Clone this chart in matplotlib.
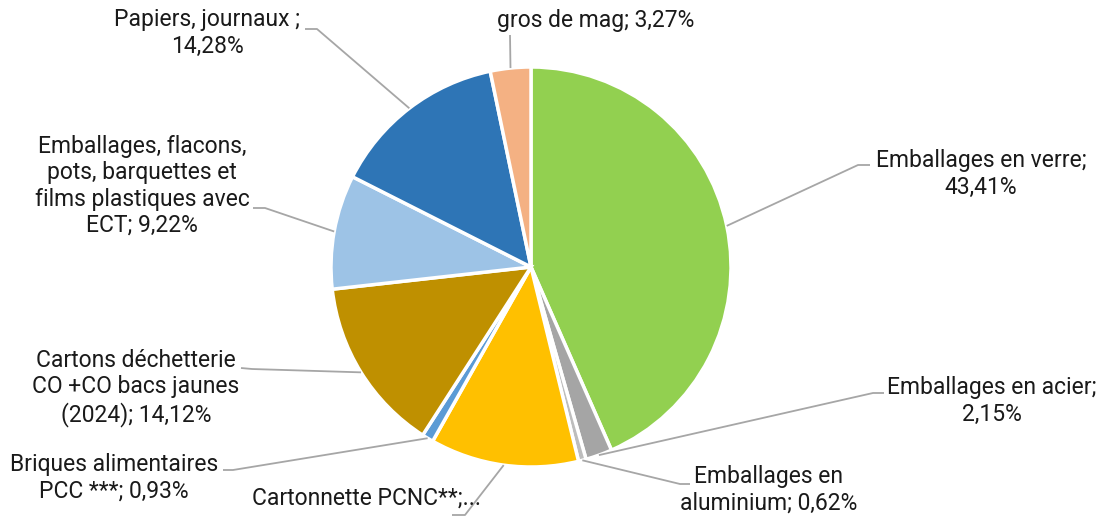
import numpy as np
import matplotlib
matplotlib.use("Agg")
import matplotlib.pyplot as plt

labels = [
    "Emballages en verre",
    "Emballages en acier",
    "Emballages en\naluminium",
    "Cartonnette PCNC**",
    "Briques alimentaires\nPCC ***",
    "Cartons déchetterie\nCO +CO bacs jaunes\n(2024)",
    "Emballages, flacons,\npots, barquettes et\nfilms plastiques avec\nECT",
    "Papiers, journaux ",
    "gros de mag",
]
values = [43.41, 2.15, 0.62, 12.00, 0.93, 14.12, 9.22, 14.28, 3.27]
label_texts = [
    "Emballages en verre;\n43,41%",
    "Emballages en acier;\n2,15%",
    "Emballages en\naluminium; 0,62%",
    "Cartonnette PCNC**;...",
    "Briques alimentaires\nPCC ***; 0,93%",
    "Cartons déchetterie\nCO +CO bacs jaunes\n(2024); 14,12%",
    "Emballages, flacons,\npots, barquettes et\nfilms plastiques avec\nECT; 9,22%",
    "Papiers, journaux ;\n14,28%",
    "gros de mag; 3,27%",
]
colors = ["#92D050", "#A5A5A5", "#BDBDBD", "#FFC000", "#5B9BD5",
          "#BF9000", "#9DC3E6", "#2E75B6", "#F4B183"]

# layout (pixel coords, y from top)
W, H = 1107, 518
cx, cy, R = 531, 267, 200
text_pos = [(981, 174), (992, 401), (769, 490), (366, 498), (114, 478),
            (136, 388), (142, 186), (207, 33), (596, 20)]
elbows = [[(858, 165), (870, 165)],
          [(873, 393), (884, 393)],
          [(680, 484), (690, 484)],
          [(465, 515), (452, 515)],
          [(233, 470), (223, 470)],
          [(252, 369), (241, 368)],
          [(265, 208), (253, 208)],
          [(317, 29), (305, 29)],
          [(510, 35)]]

plt.rcParams['font.family'] = ['Roboto', 'DejaVu Sans']

fig = plt.figure(figsize=(W / 100, H / 100), dpi=100)
ax = fig.add_axes([0, 0, 1, 1])
ax.set_xlim(0, W)
ax.set_ylim(0, H)
ax.axis('off')

wedges, _ = ax.pie(values, colors=colors, startangle=90, counterclock=False,
                   center=(cx, H - cy), radius=R,
                   wedgeprops=dict(edgecolor='white', linewidth=2.5))
ax.set_xlim(0, W)
ax.set_ylim(0, H)
ax.set_aspect('equal')

total = sum(values)
cum = 0.0
for i, v in enumerate(values):
    mid = cum + v / 2
    cum += v
    ang = np.deg2rad(90 - 360 * mid / total)
    px, py = cx + R * np.cos(ang), (H - cy) + R * np.sin(ang)
    pts = [(px, py)] + [(x, H - y) for x, y in elbows[i]]
    xs, ys = zip(*pts)
    ax.plot(xs, ys, color='#A6A6A6', lw=1.3, solid_capstyle='butt')
    tx, ty = text_pos[i]
    ax.text(tx, H - ty, label_texts[i], ha='center', va='center',
            fontsize=16.5, color='#1A1A1A', linespacing=1.17)

fig.savefig("out.png", dpi=100)
